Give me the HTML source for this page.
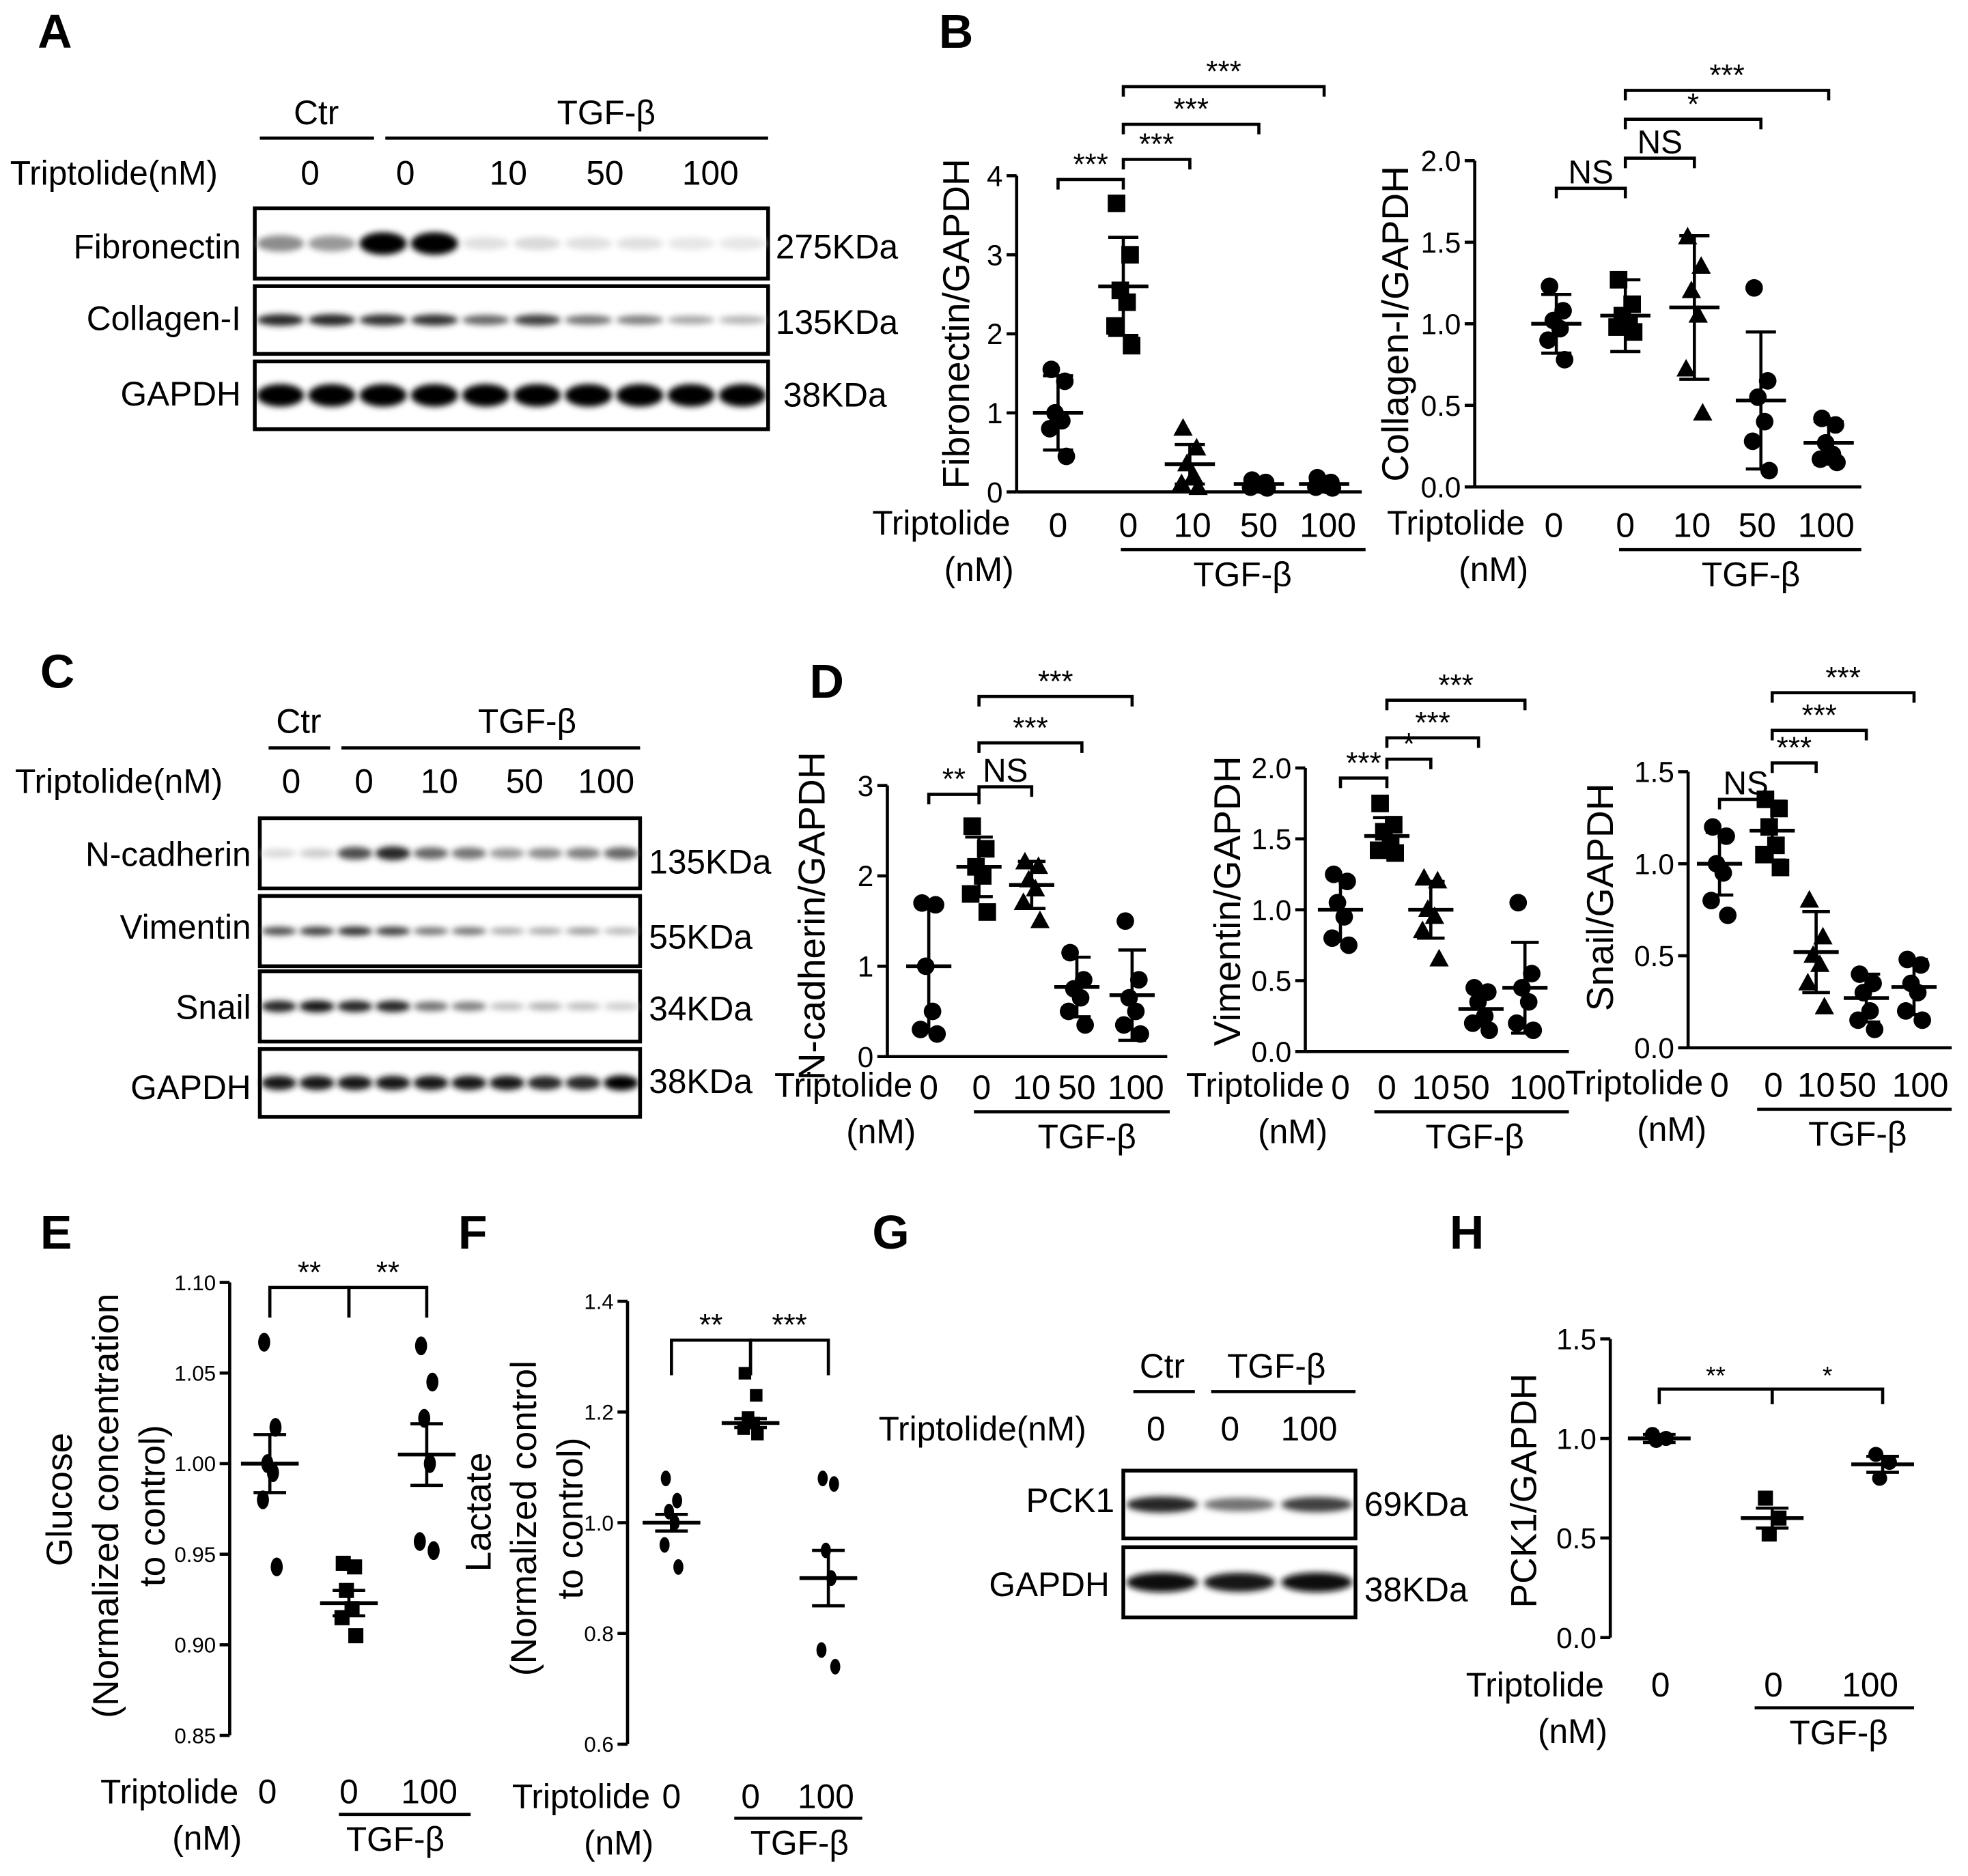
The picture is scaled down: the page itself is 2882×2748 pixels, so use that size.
<!DOCTYPE html>
<html><head><meta charset="utf-8">
<style>
html,body{margin:0;padding:0;background:#fff;}
svg{display:block;font-family:"Liberation Sans",Arial,sans-serif;}
</style></head>
<body>
<svg id="fig" xmlns="http://www.w3.org/2000/svg" width="2882" height="2748" viewBox="0 0 1568 1495">
<defs>
<filter id="blur" x="-50%" y="-100%" width="200%" height="300%"><feGaussianBlur stdDeviation="2.5"/></filter>
</defs>
<rect width="1568" height="1495" fill="#fff"/>
</svg>
<script>
// ---------- data ----------
const fnPts=[[1.55,1.4,1.0,0.9,0.8,0.45],[3.65,3.0,2.55,2.4,2.1,1.85],[0.8,0.55,0.35,0.2,0.1,0.05],[0.15,0.12,0.1,0.08,0.06,0.05],[0.18,0.12,0.1,0.08,0.06,0.05]];
const fnMean=[1.0,2.6,0.35,0.1,0.1];
const fnErr=[0.47,0.62,0.25,0.05,0.05];
const colPts=[[1.23,1.08,1.02,0.97,0.9,0.78],[1.27,1.12,1.05,1.0,0.98,0.95],[1.53,1.35,1.2,1.05,0.72,0.45],[1.22,0.65,0.55,0.4,0.28,0.1],[0.42,0.38,0.27,0.2,0.17,0.15]];
const colMean=[1.0,1.05,1.1,0.53,0.27];
const colErr=[0.18,0.22,0.44,0.42,0.13];
const ncPts=[[1.7,1.68,1.0,0.5,0.3,0.25],[2.55,2.3,2.1,2.0,1.8,1.6],[2.15,2.1,1.95,1.85,1.7,1.5],[1.15,0.85,0.75,0.65,0.5,0.35],[1.5,0.85,0.65,0.5,0.35,0.25]];
const ncMean=[1.0,2.1,1.9,0.77,0.68];
const ncErr=[0.72,0.33,0.26,0.33,0.5];
const vimPts=[[1.25,1.2,1.05,0.95,0.8,0.75],[1.75,1.6,1.55,1.45,1.42,1.4],[1.22,1.2,1.0,0.95,0.85,0.65],[0.45,0.42,0.35,0.25,0.2,0.15],[1.05,0.55,0.45,0.35,0.2,0.15]];
const vimMean=[1.0,1.52,1.0,0.3,0.45];
const vimErr=[0.22,0.13,0.2,0.12,0.32];
const snPts=[[1.2,1.15,1.0,0.95,0.8,0.72],[1.35,1.3,1.2,1.1,1.05,0.98],[0.8,0.6,0.5,0.45,0.35,0.22],[0.4,0.35,0.3,0.2,0.15,0.1],[0.48,0.45,0.35,0.3,0.2,0.15]];
const snMean=[1.0,1.18,0.52,0.27,0.33];
const snErr=[0.17,0.16,0.22,0.13,0.15];
const gluPts=[[1.067,1.02,1.0,0.995,0.98,0.943],[0.945,0.943,0.93,0.92,0.915,0.905],[1.065,1.045,1.025,1.0,0.957,0.952]];
const gluMean=[1.0,0.923,1.005];
const gluErr=[0.016,0.007,0.017];
const lacPts=[[1.08,1.04,1.02,1.0,0.96,0.92],[1.27,1.23,1.19,1.18,1.17,1.16],[1.08,1.07,0.95,0.9,0.77,0.74]];
const lacMean=[1.0,1.18,0.9];
const lacErr=[0.015,0.008,0.05];
const pckPts=[[1.02,1.0,0.99],[0.7,0.6,0.52],[0.92,0.88,0.8]];
const pckMean=[1.0,0.6,0.87];
const pckErr=[0.02,0.05,0.04];
const ticks4=[0,1,2,3,4], ticks2=[0,0.5,1.0,1.5,2.0], ticks3=[0,1,2,3], ticks15=[0,0.5,1.0,1.5];
const gluTicks=[0.85,0.90,0.95,1.00,1.05,1.10], lacTicks=[0.6,0.8,1.0,1.2,1.4];
const fnBand=[0.45,0.4,1,1,0.12,0.15,0.12,0.12,0.1,0.1];
const colBand=[0.85,0.85,0.8,0.8,0.6,0.75,0.55,0.5,0.35,0.3];
const gapA=[1,1,1,1,1,1,1,1,1,1];
const ncBand=[0.15,0.2,0.7,0.85,0.6,0.55,0.4,0.45,0.5,0.6];
const vimBand=[0.7,0.75,0.8,0.75,0.55,0.55,0.35,0.35,0.4,0.3];
const snBand=[0.85,0.9,0.85,0.85,0.55,0.5,0.25,0.3,0.25,0.2];
const gapC=[0.9,0.9,0.9,0.9,0.9,0.9,0.9,0.85,0.85,1];
const pckBand=[0.85,0.55,0.75];
const gapG=[0.95,0.9,0.95];

// ---------- helpers ----------
const svg=document.getElementById('fig');
const NS='http://www.w3.org/2000/svg';
function mk(tag,attrs,parent){const e=document.createElementNS(NS,tag);for(const k in attrs)e.setAttribute(k,attrs[k]);(parent||svg).appendChild(e);return e;}
function txt(x,y,s,size,anchor,name,extra){const t=mk('text',Object.assign({x:x,y:y,'font-size':size,'text-anchor':anchor||'middle',fill:'#000'},extra||{}));t.textContent=s;


return t;}
function line(x1,y1,x2,y2,w,name){const l=mk('line',{x1:x1,y1:y1,x2:x2,y2:y2,stroke:'#000','stroke-width':w||2.5});


return l;}
function bracket(x1,x2,y,drop,label,size,name){
 const p=mk('path',{d:`M${x1},${y+drop}V${y}H${x2}V${y+drop}`,fill:'none',stroke:'#000','stroke-width':2.5});
 
 
 txt((x1+x2)/2,y-4,label,size,'middle',name+'-label');
}
const jit=[-9,9,-4,5,-11,11];
function marker(g,shape,x,y,r,name){
 let e;
 if(shape==='s')e=mk('rect',{x:x-r,y:y-r,width:2*r,height:2*r,fill:'#000'},g);
 else if(shape==='t')e=mk('polygon',{points:`${x},${y-r*1.2} ${x-r*1.1},${y+r*0.8} ${x+r*1.1},${y+r*0.8}`,fill:'#000'},g);
 else if(shape==='e')e=mk('ellipse',{cx:x,cy:y,rx:r*0.8,ry:r*1.25,fill:'#000'},g);
 else e=mk('circle',{cx:x,cy:y,r:r,fill:'#000'},g);
 
 
}
function dotPlot(o){
 const g=mk('g',{});
 
 
 const y=v=>o.yBase-(v-o.vmin)/(o.vmax-o.vmin)*(o.yBase-o.yTop);
 line(o.ax,o.yBase,o.ax,o.yTop,2.5,o.name+'-y-axis');
 line(o.ax,o.yBase,o.xEnd,o.yBase,2.5,o.name+'-x-axis');
 o.ticks.forEach(t=>{line(o.ax-8,y(t),o.ax,y(t),2.5,o.name+'-y-tick');
  txt(o.ax-11,y(t)+o.tfs*0.36,o.fmt(t),o.tfs,'end',o.name+'-y-tick-label',o.tfont?{'font-family':o.tfont}:{});});
 o.pts.forEach((grp,i)=>{grp.forEach((v,j)=>marker(g,o.shapes[i],o.xs[i]+jit[j%6]*(o.jk||0.6),y(v),o.r||7,o.name+'-point'));
  const m=o.mean[i],e=o.err[i],x=o.xs[i];
  line(x-o.mw/2,y(m),x+o.mw/2,y(m),3,o.name+'-mean-line');
  line(x,y(m+e),x,y(m-e),2.5,o.name+'-error-bar');
  line(x-o.cw/2,y(m+e),x+o.cw/2,y(m+e),2.5,o.name+'-error-cap');
  line(x-o.cw/2,y(m-e),x+o.cw/2,y(m-e),2.5,o.name+'-error-cap');
 });
}
function blot(x,y,w,h,vals,bh,name){
 const g=mk('g',{});
 
 
 mk('rect',{x:x,y:y,width:w,height:h,fill:'#fff',stroke:'#000','stroke-width':3},g);
 const n=vals.length,lw=w/n;
 vals.forEach((v,i)=>{const c=Math.round(255*(1-v));
  const e=mk('ellipse',{cx:x+lw*(i+0.5),cy:y+h/2,rx:lw*0.46,ry:bh*(0.5+0.5*v),fill:`rgb(${c},${c},${c})`,filter:'url(#blur)'},g);
  
  
 });
}
const fmt1=t=>t.toFixed(1), fmt0=t=>String(t), fmt2=t=>t.toFixed(2);
function rotTitle(x,y,s,size,name){txt(x,y,s,size,'middle',name,{transform:`rotate(-90 ${x} ${y})`});}

// ---------- panel letters ----------
[['A',30,38],['B',748,38],['C',32,548],['D',645,556],['E',32,995],['F',365,995],['G',695,995],['H',1155,995]].forEach(a=>txt(a[1],a[2],a[0],38,'start','panel-label-'+a[0],{'font-weight':'bold','font-family':'"Liberation Sans Narrow","Liberation Sans",sans-serif'}));

// ---------- Panel A blot ----------
const fs=27;
txt(252,99,'Ctr',fs,'middle','ctr-label-a');line(207,110,298,110,2.5,'ctr-line-a');
txt(483,99,'TGF-β',fs,'middle','tgf-label-a');line(307,110,612,110,2.5,'tgf-line-a');
txt(8,147,'Triptolide(nM)',fs,'start','triptolide-label-a');
[[247,'0'],[323,'0'],[405,'10'],[482,'50'],[566,'100']].forEach(a=>txt(a[0],147,a[1],fs,'middle','dose-label-a'));
txt(192,206,'Fibronectin',fs,'end','fibronectin-label');txt(192,263,'Collagen-I',fs,'end','collagen-label');txt(192,323,'GAPDH',fs,'end','gapdh-label-a');
txt(618,206,'275KDa',fs,'start','kda-275');txt(618,266,'135KDa',fs,'start','kda-135-a');txt(624,324,'38KDa',fs,'start','kda-38-a');
blot(203,166,409,56,fnBand,9,'fibronectin-blot');
blot(203,228,409,54,colBand,5,'collagen-blot');
blot(203,288,409,54,gapA,9,'gapdh-blot-a');

// ---------- Panel C blot ----------
txt(238,584,'Ctr',fs,'middle','ctr-label-c');line(214,596,263,596,2.5,'ctr-line-c');
txt(420,584,'TGF-β',fs,'middle','tgf-label-c');line(272,596,510,596,2.5,'tgf-line-c');
txt(12,632,'Triptolide(nM)',fs,'start','triptolide-label-c');
[[232,'0'],[290,'0'],[350,'10'],[418,'50'],[483,'100']].forEach(a=>txt(a[0],632,a[1],fs,'middle','dose-label-c'));
txt(200,690,'N-cadherin',fs,'end','ncadherin-label');txt(200,748,'Vimentin',fs,'end','vimentin-label');txt(200,812,'Snail',fs,'end','snail-label');txt(200,876,'GAPDH',fs,'end','gapdh-label-c');
txt(517,696,'135KDa',fs,'start','kda-135-c');txt(517,756,'55KDa',fs,'start','kda-55');txt(517,813,'34KDa',fs,'start','kda-34');txt(517,871,'38KDa',fs,'start','kda-38-c');
blot(207,652,303,56,ncBand,6,'ncadherin-blot');
blot(207,714,303,56,vimBand,4,'vimentin-blot');
blot(207,774,303,56,snBand,5,'snail-blot');
blot(207,836,303,54,gapC,6,'gapdh-blot-c');

// ---------- Panel G blot ----------
txt(926,1098,'Ctr',fs,'middle','ctr-label-g');line(903,1109,952,1109,2.5,'ctr-line-g');
txt(1017,1098,'TGF-β',fs,'middle','tgf-label-g');line(965,1109,1080,1109,2.5,'tgf-line-g');
txt(700,1148,'Triptolide(nM)',fs,'start','triptolide-label-g');
[[921,'0'],[980,'0'],[1043,'100']].forEach(a=>txt(a[0],1148,a[1],fs,'middle','dose-label-g'));
txt(888,1205,'PCK1',fs,'end','pck1-label');txt(884,1272,'GAPDH',fs,'end','gapdh-label-g');
txt(1087,1208,'69KDa',fs,'start','kda-69');txt(1087,1276,'38KDa',fs,'start','kda-38-g');
blot(895,1172,185,54,pckBand,7,'pck1-blot');
blot(895,1233,185,56,gapG,8,'gapdh-blot-g');

// ---------- charts ----------
const tf=23;
dotPlot({name:'fibronectin-chart',ax:810,xEnd:1085,yBase:392,yTop:140,vmin:0,vmax:4,ticks:ticks4,fmt:fmt0,tfs:tf,xs:[843,895,948,1003,1055],pts:fnPts,mean:fnMean,err:fnErr,shapes:['c','s','t','c','c'],mw:40,cw:24});
dotPlot({name:'collagen-chart',ax:1175,xEnd:1483,yBase:388,yTop:128,vmin:0,vmax:2,ticks:ticks2,fmt:fmt1,tfs:tf,xs:[1240,1295,1350,1403,1457],pts:colPts,mean:colMean,err:colErr,shapes:['c','s','t','c','c'],mw:40,cw:24});
dotPlot({name:'ncadherin-chart',ax:707,xEnd:930,yBase:842,yTop:626,vmin:0,vmax:3,ticks:ticks3,fmt:fmt0,tfs:tf,xs:[740,780,822,858,902],pts:ncPts,mean:ncMean,err:ncErr,shapes:['c','s','t','c','c'],mw:36,cw:22});
dotPlot({name:'vimentin-chart',ax:1040,xEnd:1250,yBase:838,yTop:612,vmin:0,vmax:2,ticks:ticks2,fmt:fmt1,tfs:tf,xs:[1068,1105,1140,1180,1215],pts:vimPts,mean:vimMean,err:vimErr,shapes:['c','s','t','c','c'],mw:36,cw:22});
dotPlot({name:'snail-chart',ax:1345,xEnd:1555,yBase:835,yTop:615,vmin:0,vmax:1.5,ticks:ticks15,fmt:fmt1,tfs:tf,xs:[1370,1412,1447,1487,1525],pts:snPts,mean:snMean,err:snErr,shapes:['c','s','t','c','c'],mw:36,cw:22});
const narrow='"Liberation Sans Narrow","Liberation Sans",sans-serif';
dotPlot({name:'glucose-chart',ax:183,xEnd:183,yBase:1383,yTop:1022,vmin:0.85,vmax:1.10,ticks:gluTicks,fmt:fmt2,tfs:17,tfont:narrow,xs:[215,278,340],pts:gluPts,mean:gluMean,err:gluErr,shapes:['e','s','e'],mw:46,cw:26,r:6,jk:0.5});
dotPlot({name:'lactate-chart',ax:500,xEnd:500,yBase:1390,yTop:1037,vmin:0.6,vmax:1.4,ticks:lacTicks,fmt:fmt1,tfs:17,tfont:narrow,xs:[535,598,660],pts:lacPts,mean:lacMean,err:lacErr,shapes:['e','s','e'],mw:46,cw:26,r:5,jk:0.5});
dotPlot({name:'pck1-chart',ax:1283,xEnd:1283,yBase:1305,yTop:1067,vmin:0,vmax:1.5,ticks:ticks15,fmt:fmt1,tfs:tf,xs:[1322,1412,1500],pts:pckPts,mean:pckMean,err:pckErr,shapes:['c','s','c'],mw:50,cw:26,r:6,jk:0.6});

// y titles
rotTitle(772,258,'Fibronectin/GAPDH',30,'fibronectin-y-title');
rotTitle(1122,258,'Collagen-I/GAPDH',30,'collagen-y-title');
rotTitle(657,730,'N-cadherin/GAPDH',30,'ncadherin-y-title');
rotTitle(988,718,'Vimentin/GAPDH',30,'vimentin-y-title');
rotTitle(1285,715,'Snail/GAPDH',30,'snail-y-title');
rotTitle(57,1195,'Glucose',29,'glucose-y-title');
rotTitle(94,1200,'(Normalized concentration',29,'glucose-y-title-2');
rotTitle(131,1200,'to control)',29,'glucose-y-title-3');
rotTitle(391,1205,'Lactate',29,'lactate-y-title');
rotTitle(427,1210,'(Normalized control',29,'lactate-y-title-2');
rotTitle(464,1210,'to control)',29,'lactate-y-title-3');
rotTitle(1224,1188,'PCK1/GAPDH',29,'pck1-y-title');

// x labels
function xlab(name,tx,ty,nx,nums,ny,l1,l2,ly,tgx){
 txt(tx,ty,'Triptolide',27,'end',name+'-triptolide');
 txt(tx-25,ty+37,'(nM)',27,'middle',name+'-nm');
 nums.forEach((n,i)=>txt(nx[i],ny,n,27,'middle',name+'-dose'));
 line(l1,ly,l2,ly,2.5,name+'-tgf-line');
 txt(tgx,ly+29,'TGF-β',27,'middle',name+'-tgf');
}
xlab('fibronectin-x',805,426,[843,899,950,1003,1058],['0','0','10','50','100'],428,893,1088,438,990);
xlab('collagen-x',1215,426,[1238,1295,1348,1400,1455],['0','0','10','50','100'],428,1290,1483,438,1395);
xlab('ncadherin-x',727,874,[740,782,822,858,905],['0','0','10','50','100'],876,776,932,886,866);
xlab('vimentin-x',1055,874,[1068,1105,1140,1172,1225],['0','0','10','50','100'],876,1095,1250,886,1175);
xlab('snail-x',1357,872,[1370,1413,1447,1480,1530],['0','0','10','50','100'],874,1400,1555,884,1480);
xlab('glucose-x',190,1437,[213,278,342],['0','0','100'],1437,270,375,1446,315);
xlab('lactate-x',518,1441,[535,598,658],['0','0','100'],1441,585,687,1449,637);
xlab('pck1-x',1278,1352,[1323,1413,1490],['0','0','100'],1352,1398,1525,1361,1465);

// significance
bracket(843,895,143,8,'***',24,'sig-fn-1');
bracket(895,948,127,8,'***',24,'sig-fn-2');
bracket(895,1003,99,8,'***',24,'sig-fn-3');
bracket(895,1055,69,8,'***',24,'sig-fn-4');
bracket(1240,1295,150,8,'NS',26,'sig-col-1');
bracket(1295,1350,126,8,'NS',26,'sig-col-2');
bracket(1295,1403,95,8,'*',24,'sig-col-3');
bracket(1295,1457,72,8,'***',24,'sig-col-4');
bracket(740,780,633,8,'**',24,'sig-nc-1');
bracket(780,822,627,8,'NS',26,'sig-nc-2');
bracket(780,862,592,8,'***',24,'sig-nc-3');
bracket(780,902,555,8,'***',24,'sig-nc-4');
bracket(1068,1105,620,8,'***',24,'sig-vim-1');
bracket(1105,1140,605,8,'*',24,'sig-vim-2');
bracket(1105,1178,588,8,'***',24,'sig-vim-3');
bracket(1105,1215,558,8,'***',24,'sig-vim-4');
bracket(1370,1412,637,8,'NS',26,'sig-sn-1');
bracket(1412,1447,608,8,'***',24,'sig-sn-2');
bracket(1412,1487,582,8,'***',24,'sig-sn-3');
bracket(1412,1525,552,8,'***',24,'sig-sn-4');
bracket(215,278,1026,24,'**',24,'sig-glu-1');
bracket(278,340,1026,24,'**',24,'sig-glu-2');
bracket(535,598,1068,28,'**',24,'sig-lac-1');
bracket(598,660,1068,28,'***',24,'sig-lac-2');
bracket(1322,1412,1107,12,'**',20,'sig-pck-1');
bracket(1412,1500,1107,12,'*',20,'sig-pck-2');
</script>
</body></html>
